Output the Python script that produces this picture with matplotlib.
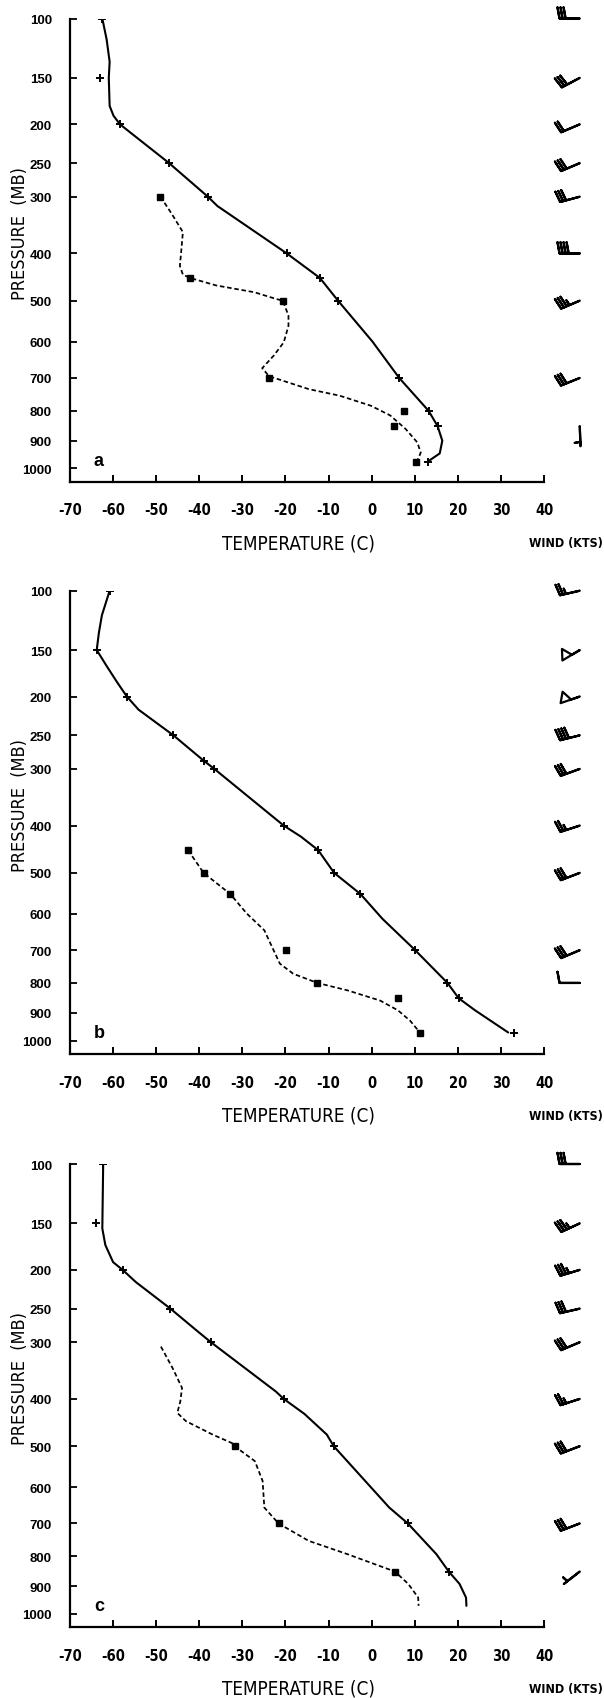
import matplotlib
matplotlib.use("Agg")
import matplotlib.pyplot as plt
import numpy as np
from matplotlib.ticker import FixedLocator, NullLocator

plt.rcParams["axes.unicode_minus"] = False

FIG_W, FIG_H = 604, 1699
KAPPA = 0.286

TEMP_TICKS = list(range(-70, 41, 10))
PRES_TICKS = [100, 150, 200, 250, 300, 400, 500, 600, 700, 800, 900, 1000]

# --- sounding a ---
a_temp_p = [100, 150, 200, 250, 300, 400, 450, 500, 700, 800, 850, 975]
a_temp_t = [-62.5, -63.0, -58.4, -47.0, -38.0, -19.7, -12.0, -7.8, 6.4, 13.2, 15.3, 13.0]
a_temp_curve_p = [100, 116, 135, 150, 179, 190, 200, 250, 300, 315, 400, 450, 500,
                  600, 700, 800, 850, 900, 945, 975]
a_temp_curve_t = [-62.5, -61.5, -60.8, -61.0, -60.8, -59.9, -58.4, -47.0, -38.0, -35.8,
                  -19.7, -12.0, -7.8, 0.2, 6.4, 13.2, 15.3, 16.4, 15.8, 13.0]
a_dew_p = [300, 450, 500, 700, 800, 850, 975]
a_dew_t = [-49.0, -42.1, -20.6, -23.8, 7.4, 5.2, 10.4]
a_dew_curve_p = [300, 328, 360, 397, 425, 443, 450, 466, 481, 496, 500, 535, 560, 602,
                 637, 672, 695, 733, 753, 784, 815, 860, 906, 942, 975]
a_dew_curve_t = [-49.0, -46.4, -43.8, -44.2, -44.5, -43.8, -42.1, -36.1, -27.2, -22.2,
                 -20.6, -19.3, -19.3, -20.4, -22.7, -25.4, -23.8, -14.6, -7.4, -0.2,
                 4.3, 7.9, 10.6, 11.4, 10.5]
a_wind_p = [100, 150, 200, 250, 300, 400, 500, 700, 850]
a_wind_dir = [270, 242, 247, 247, 255, 270, 247, 248, 178]
a_wind_spd = [30, 30, 20, 30, 30, 40, 35, 30, 5]

# --- sounding b ---
b_temp_p = [100, 150, 200, 250, 287, 300, 400, 450, 500, 550, 700, 800, 850, 970]
b_temp_t = [-60.8, -63.8, -56.8, -46.0, -39.0, -36.5, -20.4, -12.4, -8.7, -2.6, 10.1,
            17.6, 20.2, 33.0]
b_temp_curve_p = [100, 119, 134, 150, 166, 184, 200, 216, 250, 287, 300, 400, 422, 450,
                  500, 550, 613, 700, 800, 850, 891, 970]
b_temp_curve_t = [-60.8, -62.6, -63.3, -63.8, -61.5, -59.0, -56.8, -54.1, -46.0, -39.0,
                  -36.5, -20.4, -16.4, -12.4, -8.7, -2.6, 2.5, 10.1, 17.6, 20.2, 24.0, 31.7]
b_dew_p = [450, 500, 550, 700, 800, 850, 970]
b_dew_t = [-42.6, -39.0, -32.8, -19.9, -12.6, 6.1, 11.2]
b_dew_curve_p = [450, 500, 550, 599, 644, 691, 740, 771, 800, 824, 858, 891, 927, 970]
b_dew_curve_t = [-42.6, -39.0, -32.8, -29.0, -24.9, -23.1, -21.3, -18.2, -12.6, -5.6,
                 2.0, 6.1, 8.9, 11.2]
b_wind_p = [100, 150, 200, 250, 300, 400, 500, 700, 800]
b_wind_dir = [257, 239, 251, 256, 250, 252, 249, 247, 270]
b_wind_spd = [25, 50, 50, 40, 30, 25, 30, 30, 10]

# --- sounding c ---
c_temp_p = [100, 150, 200, 250, 300, 400, 500, 700, 850]
c_temp_t = [-62.3, -63.9, -57.8, -46.7, -37.3, -20.4, -8.8, 8.4, 17.9]
c_temp_curve_p = [100, 155, 172, 191, 200, 215, 250, 283, 300, 386, 400, 430, 474, 500,
                  655, 700, 793, 850, 892, 940, 970]
c_temp_curve_t = [-62.3, -62.5, -61.8, -60.0, -57.8, -54.7, -46.7, -40.4, -37.3, -22.2,
                  -20.4, -15.6, -10.4, -8.8, 4.1, 8.4, 15.0, 17.9, 20.4, 21.9, 22.0]
c_dew_p = [500, 700, 850]
c_dew_t = [-31.8, -21.6, 5.4]
c_dew_curve_p = [307, 343, 379, 405, 428, 445, 474, 493, 500, 535, 584, 655, 700, 752,
                 793, 850, 892, 940, 970]
c_dew_curve_t = [-48.9, -46.2, -44.0, -44.4, -45.1, -43.1, -36.9, -32.4, -31.8, -27.1,
                 -25.3, -24.9, -21.6, -14.6, -5.7, 5.4, 8.5, 10.8, 10.9]
c_wind_p = [100, 150, 200, 250, 300, 400, 500, 700, 850]
c_wind_dir = [270, 245, 253, 257, 247, 252, 249, 249, 232]
c_wind_spd = [30, 35, 35, 30, 30, 25, 30, 30, 5]

SOUNDINGS = [
    ("a", a_temp_p, a_temp_t, a_temp_curve_p, a_temp_curve_t, a_dew_p, a_dew_t,
     a_dew_curve_p, a_dew_curve_t, a_wind_p, a_wind_dir, a_wind_spd),
    ("b", b_temp_p, b_temp_t, b_temp_curve_p, b_temp_curve_t, b_dew_p, b_dew_t,
     b_dew_curve_p, b_dew_curve_t, b_wind_p, b_wind_dir, b_wind_spd),
    ("c", c_temp_p, c_temp_t, c_temp_curve_p, c_temp_curve_t, c_dew_p, c_dew_t,
     c_dew_curve_p, c_dew_curve_t, c_wind_p, c_wind_dir, c_wind_spd),
]

# condensed DejaVu stands in for the plotter lettering
COND = dict(family="DejaVu Sans", fontstretch="condensed")
REGULAR = ["Liberation Sans", "DejaVu Sans"]

PANEL_TOPS = [19.5, 591.7, 1165.0]   # pixel row of the 100 mb level
AX_LEFT, AX_RIGHT, AX_HEIGHT = 70.0, 544.0, 463.0
WIND_COLUMN_T = 48.3
BARB_SIZES = dict(spacing=0.15, height=0.55, width=0.2, emptybarb=0.0)
FLAG_SIZES = dict(spacing=0.15, height=0.5, width=0.55, emptybarb=0.0)


def fx(x):
    return x / FIG_W


def fy(y):
    return 1.0 - y / FIG_H


def stuve(p):
    return np.power(np.asarray(p, dtype=float), KAPPA)


def stuve_inv(q):
    return np.power(np.clip(np.asarray(q, dtype=float), 1e-9, None), 1.0 / KAPPA)


def draw_winds(ax, wp, wdir, wspd):
    wp = np.asarray(wp, dtype=float)
    spd = np.asarray(wspd, dtype=float)
    rad = np.deg2rad(wdir)
    u = -spd * np.sin(rad)
    v = -spd * np.cos(rad)
    x = np.full(len(wp), WIND_COLUMN_T)
    for mask, sizes in ((spd < 50, BARB_SIZES), (spd >= 50, FLAG_SIZES)):
        if not mask.any():
            continue
        ax.barbs(x[mask], wp[mask], u[mask], v[mask], length=5.4, pivot="tip",
                 linewidth=1.6, barbcolor="k", flagcolor="none", sizes=sizes,
                 clip_on=False)


def draw_sounding(fig, top, spec):
    (letter, tp, tt, tcp, tct, dp, dt, dcp, dct, wp, wdir, wspd) = spec
    ax = fig.add_axes([fx(AX_LEFT), fy(top + AX_HEIGHT),
                       fx(AX_RIGHT - AX_LEFT), AX_HEIGHT / FIG_H])
    ax.set_yscale("function", functions=(stuve, stuve_inv))
    ax.set_xlim(-70, 40)
    ax.set_ylim(1050, 100)

    ax.plot(tct, tcp, color="k", lw=1.5, solid_capstyle="round")
    ax.plot(tt, tp, ls="none", marker="+", ms=5.5, mew=1.4, color="k")
    ax.plot(dct, dcp, color="k", lw=1.25, dashes=(2.6, 1.6))
    ax.plot(dt, dp, ls="none", marker="s", ms=4.2, color="k")
    draw_winds(ax, wp, wdir, wspd)

    for side in ("top", "right"):
        ax.spines[side].set_visible(False)
    for side in ("left", "bottom"):
        ax.spines[side].set_linewidth(1.6)

    ax.xaxis.set_major_locator(FixedLocator(TEMP_TICKS))
    ax.xaxis.set_minor_locator(NullLocator())
    ax.set_xticklabels([str(t) for t in TEMP_TICKS], fontweight="bold",
                       fontsize=10.5, **COND)
    ax.yaxis.set_major_locator(FixedLocator(PRES_TICKS))
    ax.yaxis.set_minor_locator(NullLocator())
    ax.set_yticklabels([str(p) for p in PRES_TICKS], family=REGULAR,
                       fontweight="bold", fontsize=9.5)
    ax.tick_params(axis="x", direction="in", length=5, width=1.4, pad=15)
    ax.tick_params(axis="y", direction="in", length=5, width=1.3, pad=13)

    fig.text(fx(298), fy(top + 524.5), "TEMPERATURE (C)", fontsize=13.5,
             ha="center", va="center", **COND)
    fig.text(fx(566), fy(top + 524.5), "WIND (KTS)", fontweight="bold",
             fontsize=9, ha="center", va="center", **COND)
    fig.text(fx(20), fy(top + 214), "PRESSURE  (MB)", fontsize=13,
             rotation=90, ha="center", va="center", **COND)
    fig.text(fx(99), fy(top + 441.5), letter, family=REGULAR,
             fontweight="bold", fontsize=13, ha="center", va="center")
    return ax


fig = plt.figure(figsize=(FIG_W / 100, FIG_H / 100), dpi=100)
for top, spec in zip(PANEL_TOPS, SOUNDINGS):
    draw_sounding(fig, top, spec)

fig.savefig("out.png", dpi=100, facecolor="white")
